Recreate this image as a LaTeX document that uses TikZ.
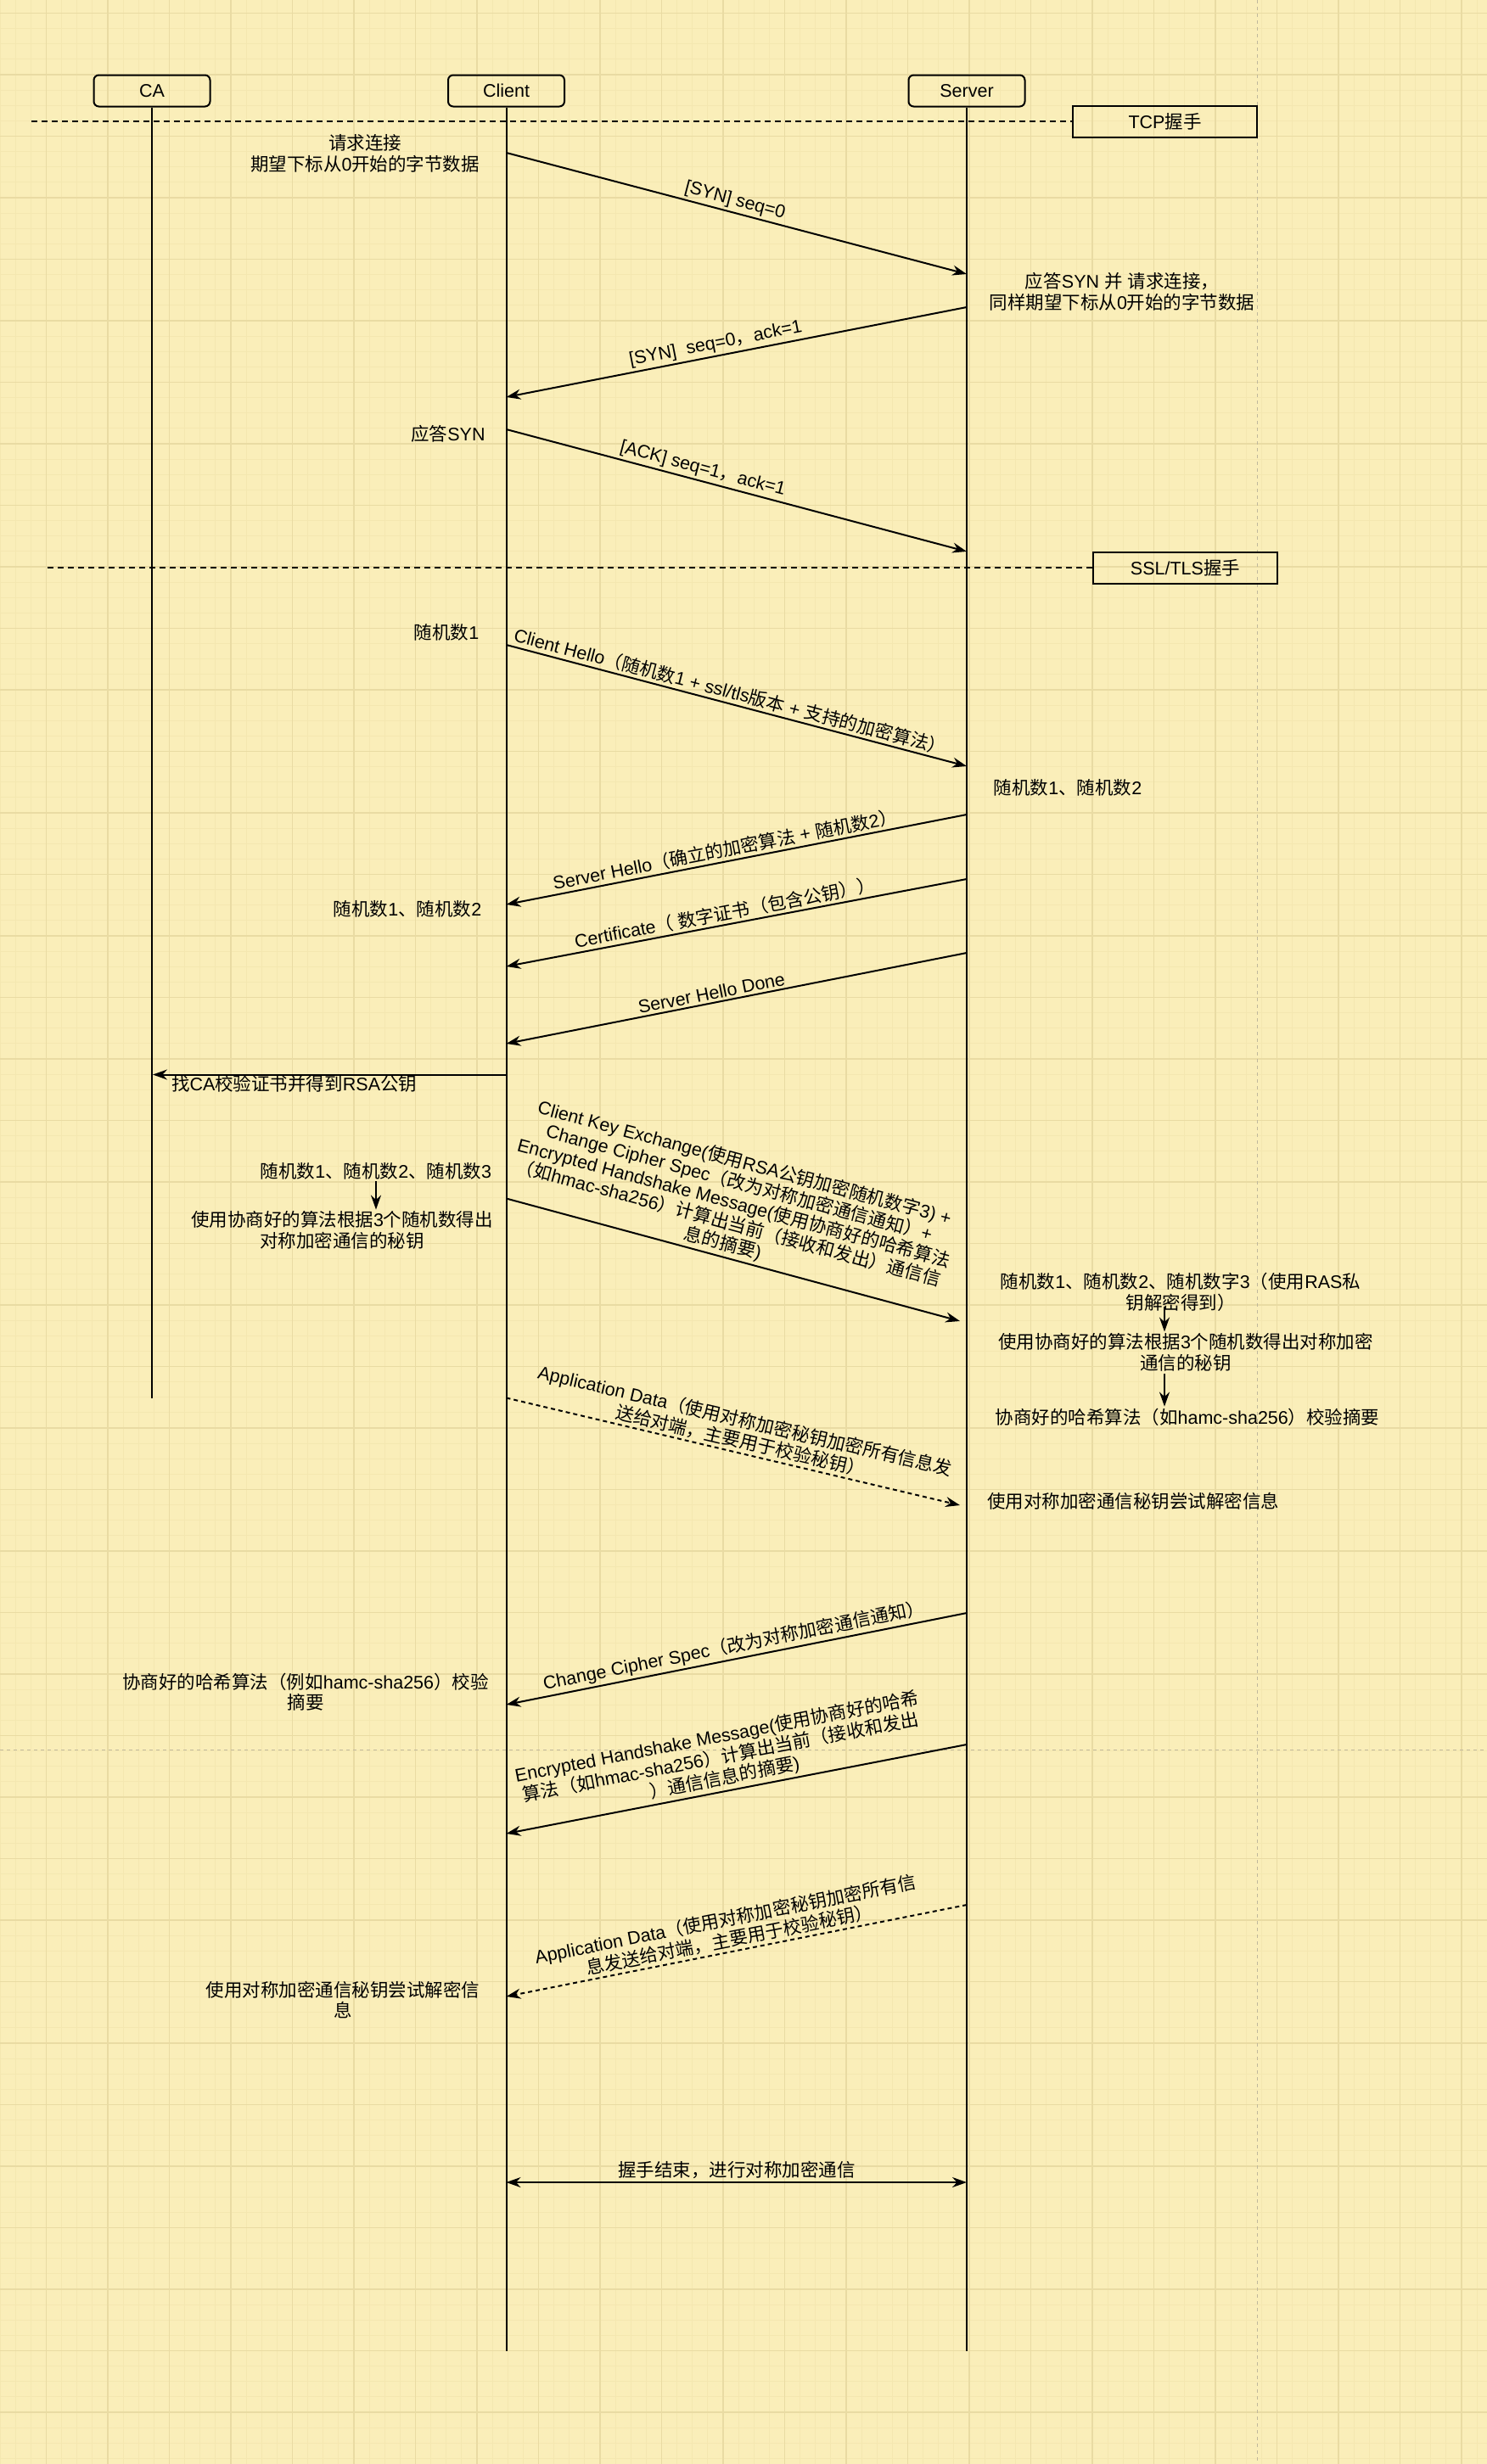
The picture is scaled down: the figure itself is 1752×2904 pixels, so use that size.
\documentclass[tikz,border=0pt]{standalone}
\usepackage{fontspec}
\setmainfont{Liberation Sans}
\newfontfamily\cjkfont{Noto Sans CJK SC}
\newfontfamily\latfont{Liberation Sans}
\usepackage{tikz}
\usetikzlibrary{%
  arrows.meta,%
  calc,%
  positioning}
% passage automatique a la police CJK
\XeTeXinterchartokenstate=1
\chardef\cjkclass=10
\newcount\cjkcnt
\def\cjkrange#1#2{\cjkcnt=#1 \loop\XeTeXcharclass\cjkcnt=\cjkclass \advance\cjkcnt by 1 \ifnum\cjkcnt<#2 \repeat}
\cjkrange{"3000}{"3040}
\cjkrange{"4E00}{"A000}
\cjkrange{"FF00}{"FFF0}
\XeTeXinterchartoks 0 \cjkclass = {\cjkfont}
\XeTeXinterchartoks 4095 \cjkclass = {\cjkfont}
\XeTeXinterchartoks \cjkclass 0 = {\latfont}
\XeTeXinterchartoks \cjkclass 4095 = {\latfont}
\definecolor{bgcol}{RGB}{250,238,185}
\definecolor{gridmin}{RGB}{244,231,176}
\definecolor{gridmaj}{RGB}{233,219,163}
\definecolor{pagecol}{RGB}{192,184,156}

\begin{document}
\begin{tikzpicture}[
  >={Stealth[length=17pt,width=12pt]},
  every node/.style={font=\fontsize{21.5}{24.5}\selectfont},
  actor/.style={rectangle, rounded corners=6pt, draw, line width=2pt, minimum width=137pt, minimum height=37pt},
  phase/.style={rectangle, draw, line width=2pt, minimum width=217pt, minimum height=37pt},
  life/.style={line width=2pt},
  msg/.style={->, line width=2pt},
  async/.style={->, line width=2pt, dash pattern=on 5pt off 4pt},
  sep/.style={line width=2.5pt, dash pattern=on 7pt off 5pt},
  pagebreak/.style={pagecol, line width=1.5pt, dash pattern=on 4pt off 4pt},
  txt/.style={align=center, inner sep=2pt},
  lbl/.style={sloped, above, align=center, inner sep=3pt}]
\begin{scope}[x=1pt,y=-1pt]
\useasboundingbox (0,0) rectangle (1752,2904);
% fond et grille
\fill[bgcol] (0,0) rectangle (1752,2904);
\foreach \i in {0,...,96} \draw[gridmin, line width=1pt] (0.125+18.125*\i,0) -- (0.125+18.125*\i,2904);
\foreach \j in {0,...,159} \draw[gridmin, line width=1pt] (0,15.5+18.125*\j) -- (1752,15.5+18.125*\j);
\foreach \i in {0,...,23} \draw[gridmaj, line width=1.8pt] (54.5+72.5*\i,0) -- (54.5+72.5*\i,2904);
\foreach \j in {0,...,39} \draw[gridmaj, line width=1.8pt] (0,15.5+72.5*\j) -- (1752,15.5+72.5*\j);
\draw[pagebreak] (1481.7,0) -- (1481.7,2904);
\draw[pagebreak] (0,2062.3) -- (1752,2062.3);

% description et nommage des noeuds
\node (CA) at (179,107) [actor] {CA};
\node (C) at (596.5,107) [actor] {Client};
\node (S) at (1139,107) [actor] {Server};
\coordinate (CAe) at (179,1647.5);
\coordinate (Ce) at (596.5,2771);
\coordinate (Se) at (1139,2771);
\draw[life] (CA) -- (CAe);
\draw[life] (C) -- (Ce);
\draw[life] (S) -- (Se);

\node (TCP) at (1372.5,143) [phase] {TCP握手};
\node (SSL) at (1396.5,669) [phase] {SSL/TLS握手};
\coordinate (TCPa) at (37,143);
\coordinate (SSLa) at (56,669);
\draw[sep] (TCPa) -- (TCP);
\draw[sep] (SSLa) -- (SSL);

% textes a cote des lignes de vie
\node (req) at (430,181) [txt] {请求连接\\期望下标从0开始的字节数据};
\node (ans) at (1322,344) [txt] {应答SYN 并 请求连接，\\同样期望下标从0开始的字节数据};
\node (ack) at (528,511) [txt] {应答SYN};
\node (r1) at (526,745) [txt] {随机数1};
\node (r12s) at (1258,928) [txt] {随机数1、随机数2};
\node (r12c) at (480,1071) [txt] {随机数1、随机数2};
\node (r123c) at (443,1380) [txt] {随机数1、随机数2、随机数3};
\node (keyc) at (403,1450) [txt] {使用协商好的算法根据3个随机数得出\\对称加密通信的秘钥};
\node (r123s) at (1391,1523) [txt] {随机数1、随机数2、随机数字3（使用RAS私\\钥解密得到）};
\node (keys) at (1397,1594) [txt] {使用协商好的算法根据3个随机数得出对称加密\\通信的秘钥};
\node (hashs) at (1399,1670) [txt] {协商好的哈希算法（如hamc-sha256）校验摘要};
\node (decs) at (1335,1769) [txt] {使用对称加密通信秘钥尝试解密信息};
\node (hashc) at (360,1994) [txt] {协商好的哈希算法（例如hamc-sha256）校验\\摘要};
\node (decc) at (404,2357) [txt] {使用对称加密通信秘钥尝试解密信\\息};
\coordinate (SX) at (1372,0);
\draw[msg] (r123c) -- (r123c |- keyc.north);
\draw[msg, shorten <=-8pt] (r123s.south -| SX) -- (keys.north -| SX);
\draw[msg] (keys.south -| SX) -- (hashs.north -| SX);

% messages
\coordinate (C1) at (596.5,180);    \coordinate (S1) at (1139,323);
\coordinate (S2) at (1139,362);     \coordinate (C2) at (596.5,468);
\coordinate (C3) at (596.5,506);    \coordinate (S3) at (1139,650);
\coordinate (C4) at (596.5,760);    \coordinate (S4) at (1139,903);
\coordinate (S5) at (1139,960);     \coordinate (C5) at (596.5,1066);
\coordinate (S6) at (1139,1036);    \coordinate (C6) at (596.5,1139);
\coordinate (S7) at (1139,1123);    \coordinate (C7) at (596.5,1230);
\coordinate (C8) at (596.5,1266.5); \coordinate (A8) at (180,1266.5);
\coordinate (C9) at (596.5,1412.5); \coordinate (S9) at (1131,1557);
\coordinate (C10) at (596.5,1647.5); \coordinate (S10) at (1131,1774);
\coordinate (S11) at (1139,1901);   \coordinate (C11) at (596.5,2009);
\coordinate (S12) at (1139,2056);   \coordinate (C12) at (596.5,2161);
\coordinate (S13) at (1139,2245);   \coordinate (C13) at (596.5,2353);
\coordinate (C14) at (596.5,2572);  \coordinate (S14) at (1139,2572);

\draw[msg] (C1) -- node[lbl, pos=0.49] {[SYN] seq=0} (S1);
\draw[msg] (S2) -- node[lbl, pos=0.54] {[SYN]\ \ seq=0，ack=1} (C2);
\draw[msg] (C3) -- node[lbl, pos=0.42] {[ACK] seq=1，ack=1} (S3);
\draw[msg] (C4) -- node[lbl, pos=0.48] {Client Hello（随机数1 + ssl/tls版本 + 支持的加密算法）} (S4);
\draw[msg] (S5) -- node[lbl, pos=0.52] {Server Hello（确立的加密算法 + 随机数2）} (C5);
\draw[msg] (S6) -- node[lbl, pos=0.52] {Certificate（ 数字证书（包含公钥））} (C6);
\draw[msg] (S7) -- node[lbl, pos=0.55] {Server Hello Done} (C7);
\draw[msg] (C8) -- node[pos=0.6, below, inner sep=0pt] {找CA校验证书并得到RSA公钥} (A8);
\draw[msg] (C9) -- node[lbl, pos=0.47] {Client Key Exchange(使用RSA公钥加密随机数字3) +\\Change Cipher Spec（改为对称加密通信通知）+\\Encrypted Handshake Message(使用协商好的哈希算法\\（如hmac-sha256）计算出当前（接收和发出）通信信\\息的摘要)} (S9);
\draw[async] (C10) -- node[lbl, pos=0.51] {Application Data（使用对称加密秘钥加密所有信息发\\送给对端，主要用于校验秘钥）} (S10);
\draw[msg] (S11) -- node[lbl, pos=0.5] {Change Cipher Spec（改为对称加密通信通知）} (C11);
\draw[msg] (S12) -- node[lbl, pos=0.52] {Encrypted Handshake Message(使用协商好的哈希\\算法（如hmac-sha256）计算出当前（接收和发出\\）通信信息的摘要)} (C12);
\draw[async] (S13) -- node[lbl, pos=0.51] {Application Data（使用对称加密秘钥加密所有信\\息发送给对端，主要用于校验秘钥）} (C13);
\draw[<->, line width=2pt] (C14) -- node[above, inner sep=3pt] {握手结束，进行对称加密通信} (S14);
\end{scope}
\end{tikzpicture}
\end{document}
